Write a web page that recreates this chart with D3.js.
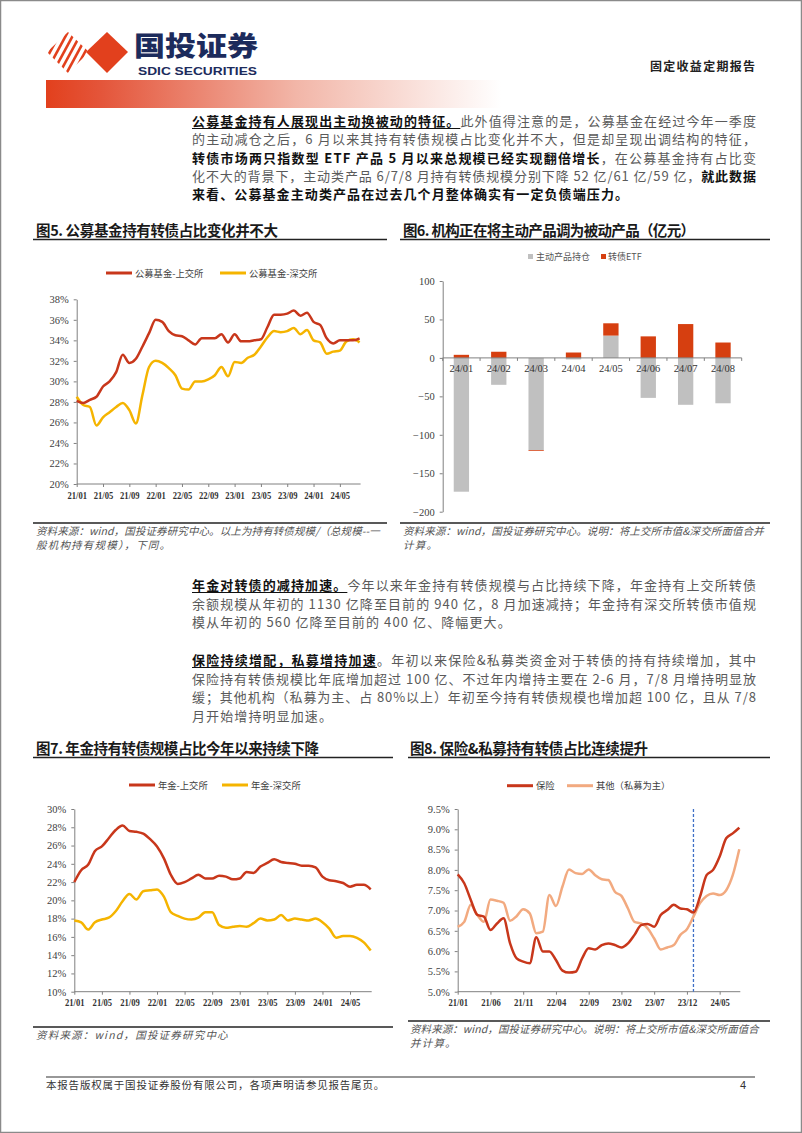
<!DOCTYPE html>
<html><head><meta charset="utf-8">
<script src="https://cdn.jsdelivr.net/npm/d3@7"></script>
<style>body{margin:0;background:#fff} svg{display:block}</style>
</head><body><svg id="page" width="802" height="1133"></svg>
<script>
// ---------------- DATA ----------------
const months = ["21/01","21/02","21/03","21/04","21/05","21/06","21/07","21/08","21/09","21/10","21/11","21/12",
  "22/01","22/02","22/03","22/04","22/05","22/06","22/07","22/08","22/09","22/10","22/11","22/12",
  "23/01","23/02","23/03","23/04","23/05","23/06","23/07","23/08","23/09","23/10","23/11","23/12",
  "24/01","24/02","24/03","24/04","24/05","24/06","24/07","24/08"];

// Fig 5 (%)
const fundSH = [28.1,27.9,28.2,28.5,29.5,30.0,30.9,32.6,31.8,32.2,33.4,34.7,
  36.0,35.8,34.9,34.5,34.4,34.0,33.6,34.2,34.2,34.2,34.6,33.8,
  34.6,33.9,33.9,34.0,34.1,35.3,36.5,36.5,36.6,36.9,36.4,36.7,
  35.8,35.5,34.2,33.7,34.0,34.0,34.0,34.2];
const fundSZ = [28.5,27.7,27.5,25.7,26.5,27.0,27.5,27.9,27.2,25.9,28.7,31.4,
  32.0,31.8,31.3,30.6,29.3,29.2,30.0,30.0,30.2,30.6,31.4,30.5,
  31.9,31.8,32.3,32.6,33.4,34.3,34.9,34.8,34.9,35.2,34.6,35.0,
  34.0,33.8,32.7,32.9,33.0,33.9,34.1,33.8];
const yTicks5 = [20,22,24,26,28,30,32,34,36,38];
const xTicks5 = ["21/01","21/05","21/09","22/01","22/05","22/09","23/01","23/05","23/09","24/01","24/05"];

// Fig 6 (亿元)
const etfMonths = ["24/01","24/02","24/03","24/04","24/05","24/06","24/07","24/08"];
const activeHold = [-174,-35,-120,-2,29,-52,-61,-59];
const etfHold = [4,8,-1,7,16,28,44,20];
const yTicks6 = [-200,-150,-100,-50,0,50,100];

// Fig 7 (%)
const pensionSH = [22.0,23.3,23.9,25.4,25.9,26.8,27.7,28.2,27.6,27.5,27.3,26.7,
  25.9,24.6,22.8,21.8,22.0,22.4,22.8,22.4,22.4,22.7,22.6,22.3,
  22.4,23.1,23.0,23.7,24.1,24.5,24.2,24.1,24.0,23.8,23.8,23.6,
  22.6,22.2,22.1,21.9,21.5,21.7,21.7,21.2];
const pensionSZ = [17.8,17.6,16.8,17.6,17.9,18.1,18.8,19.9,20.7,20.1,21.0,21.1,
  21.2,20.4,18.7,18.3,18.0,17.9,18.1,18.7,18.7,17.3,17.0,17.1,
  17.2,17.1,17.5,18.0,17.8,17.9,18.4,17.8,18.0,17.9,17.8,18.0,
  17.6,16.9,15.9,16.1,16.1,15.9,15.4,14.5];
const yTicks7 = [10,12,14,16,18,20,22,24,26,28,30];
const xTicks7 = xTicks5;

// Fig 8 (%)
const insurance = [7.89,7.67,7.26,6.89,6.85,6.52,6.68,6.81,6.19,5.82,5.74,5.70,
  6.34,5.99,5.99,5.78,5.52,5.47,5.49,5.82,6.07,6.04,6.15,6.19,
  6.15,6.09,6.19,6.40,6.64,6.67,6.60,6.89,7.01,7.14,7.05,7.03,
  6.95,7.34,7.87,8.00,8.33,8.78,8.90,9.04];
const others = [6.60,6.72,7.14,6.89,6.72,7.27,7.24,7.19,6.75,6.86,7.03,6.93,
  6.44,6.48,7.38,7.11,7.59,8.01,7.92,7.90,8.01,7.87,7.77,7.75,
  7.46,7.36,7.05,6.72,6.68,6.56,6.31,6.04,6.09,6.15,6.40,6.54,
  6.85,7.18,7.36,7.42,7.38,7.50,7.87,8.51];
const yTicks8 = [5.0,5.5,6.0,6.5,7.0,7.5,8.0,8.5,9.0,9.5];
const xTicks8 = ["21/01","21/06","21/11","22/04","22/09","23/02","23/07","23/12","24/05"];
const markerMonth8 = "24/01";

// ---------------- SETUP ----------------
const svg = d3.select("#page");
const CJK = "'Noto Sans CJK SC','Noto Sans',sans-serif";
const SERIF = "'Liberation Serif','Times New Roman',serif";
const RED = "#C8371B", YEL = "#F5B400", GRAY_BAR = "#C0C0C0", ETF_RED = "#D63F10", SALMON = "#F2AA80";
const AXIS = "#808080", LABEL = "#404040";

svg.append("rect").attr("x",0.5).attr("y",0.5).attr("width",801).attr("height",1132)
  .attr("fill","#fff").attr("stroke","#8a8a8a").attr("stroke-width",1.5);

// ---------------- HEADER ----------------
const defs = svg.append("defs");
const g1 = defs.append("linearGradient").attr("id","hdrGrad").attr("x1","0").attr("x2","1");
g1.append("stop").attr("offset","0").attr("stop-color","#E2401D");
g1.append("stop").attr("offset","0.12").attr("stop-color","#E4553A");
g1.append("stop").attr("offset","0.55").attr("stop-color","#F2B6A8");
g1.append("stop").attr("offset","1").attr("stop-color","#ffffff");
svg.append("rect").attr("x",46).attr("y",80).attr("width",455).attr("height",28).attr("fill","url(#hdrGrad)");

// logo
defs.append("clipPath").attr("id","stripeClip").append("polygon")
  .attr("points","68,32 89,52 68,73 47,52");
const logo = svg.append("g");
logo.append("polygon").attr("points","107,32 128,52 107,73 86,52").attr("fill","#E2401D");
const sg = logo.append("g").attr("clip-path","url(#stripeClip)");
[-18,-11,-4,3,10,17,24].forEach(o => {
  sg.append("line").attr("x1",55+o).attr("y1",76).attr("x2",81+o).attr("y2",28)
    .attr("stroke","#E2401D").attr("stroke-width",2.6);
});
svg.append("text").attr("x",134).attr("y",56).attr("font-family",CJK).attr("font-weight",900)
  .attr("font-size",27).attr("fill","#1C2B5C").attr("textLength",124).attr("lengthAdjust","spacingAndGlyphs").text("国投证券");
svg.append("text").attr("x",138).attr("y",75).attr("font-family","'Liberation Sans',Arial,sans-serif").attr("font-weight",700)
  .attr("font-size",11.5).attr("fill","#1C2B5C").attr("textLength",119).attr("lengthAdjust","spacingAndGlyphs").text("SDIC SECURITIES");
svg.append("text").attr("x",650).attr("y",71).attr("font-family",CJK).attr("font-weight",700)
  .attr("font-size",12).attr("fill","#222").attr("textLength",105).attr("lengthAdjust","spacing").text("固定收益定期报告");

// ---------------- BODY TEXT ----------------
const TX0 = 192, TX1 = 757;
function para(lines, y0, step){
  lines.forEach((segs, i) => {
    const y = y0 + i*step;
    const t = svg.append("text").attr("x",TX0).attr("y",y).attr("font-family",CJK)
      .attr("font-size",13).attr("letter-spacing",1.1);
    segs.forEach(s => {
      t.append("tspan").attr("font-weight", s.b ? 700 : 400).attr("fill", s.b ? "#111" : "#5a5a5a").text(s.t);
    });
    const full = i < lines.length-1;
    if (full) t.attr("textLength",TX1-TX0).attr("lengthAdjust","spacing");
    if (segs[0].u) {
      const n = segs[0].t.length;
      const node = t.node();
      const xe = node.getEndPositionOfChar(n-1).x;
      svg.append("line").attr("x1",TX0).attr("x2",xe).attr("y1",y+2.5).attr("y2",y+2.5)
        .attr("stroke","#111").attr("stroke-width",1);
    }
  });
}
para([
  [{t:"公募基金持有人展现出主动换被动的特征。",b:1,u:1},{t:"此外值得注意的是，公募基金在经过今年一季度"}],
  [{t:"的主动减仓之后，6 月以来其持有转债规模占比变化并不大，但是却呈现出调结构的特征，"}],
  [{t:"转债市场两只指数型 ETF 产品 5 月以来总规模已经实现翻倍增长",b:1},{t:"，在公募基金持有占比变"}],
  [{t:"化不大的背景下，主动类产品 6/7/8 月持有转债规模分别下降 52 亿/61 亿/59 亿，"},{t:"就此数据",b:1}],
  [{t:"来看、公募基金主动类产品在过去几个月整体确实有一定负债端压力。",b:1}]
], 126, 18.3);
para([
  [{t:"年金对转债的减持加速。",b:1,u:1},{t:"今年以来年金持有转债规模与占比持续下降，年金持有上交所转债"}],
  [{t:"余额规模从年初的 1130 亿降至目前的 940 亿，8 月加速减持；年金持有深交所转债市值规"}],
  [{t:"模从年初的 560 亿降至目前的 400 亿、降幅更大。"}]
], 590, 18.6);
para([
  [{t:"保险持续增配，私募增持加速",b:1,u:1},{t:"。年初以来保险&私募类资金对于转债的持有持续增加，其中"}],
  [{t:"保险持有转债规模比年底增加超过 100 亿、不过年内增持主要在 2-6 月，7/8 月增持明显放"}],
  [{t:"缓；其他机构（私募为主、占 80%以上）年初至今持有转债规模也增加超 100 亿，且从 7/8"}],
  [{t:"月开始增持明显加速。"}]
], 665, 18.6);

// ---------------- HELPERS ----------------
function title(x, y, w, txt, rx0, rx1){
  svg.append("text").attr("x",x).attr("y",y).attr("font-family",CJK).attr("font-weight",700)
    .attr("font-size",14.5).attr("fill","#1a1a1a").attr("textLength",w).attr("lengthAdjust","spacing").text(txt);
  svg.append("line").attr("x1",rx0).attr("x2",rx1).attr("y1",y+3.5).attr("y2",y+3.5).attr("stroke","#222").attr("stroke-width",1.4);
}
function source(x, y, lines, w, rx0, rx1){
  svg.append("line").attr("x1",rx0).attr("x2",rx1).attr("y1",y-8).attr("y2",y-8).attr("stroke","#222").attr("stroke-width",1.4);
  lines.forEach((l,i) => {
    const t = svg.append("text").attr("x",x).attr("y",y+4+i*14).attr("font-family",CJK).attr("font-style","italic")
      .attr("font-size",10.5).attr("fill","#555").attr("letter-spacing",1.2).text(l);
    if (i < lines.length-1 && w) t.attr("textLength",w).attr("lengthAdjust","spacing");
  });
}
function legendLine(x, y, color, label){
  svg.append("line").attr("x1",x).attr("x2",x+26).attr("y1",y).attr("y2",y).attr("stroke",color).attr("stroke-width",3);
  svg.append("text").attr("x",x+29).attr("y",y+3.5).attr("font-family",CJK).attr("font-size",9.3).attr("fill",LABEL).text(label);
}
function styleAxis(g){
  g.select(".domain").attr("stroke",AXIS);
  g.selectAll(".tick line").attr("stroke",AXIS);
  g.selectAll(".tick text").attr("fill",LABEL).attr("font-family",SERIF).attr("font-size",10.5);
}
function lineChart(o){
  const x = d3.scalePoint().domain(months).range([o.x0, o.x1]);
  const y = d3.scaleLinear().domain([o.yTicks[0], o.yTicks[o.yTicks.length-1]]).range([o.yb, o.yt]);
  const ya = svg.append("g").attr("transform",`translate(${o.x0},0)`)
    .call(d3.axisLeft(y).tickValues(o.yTicks).tickSize(3).tickSizeOuter(0).tickPadding(5).tickFormat(o.fmt));
  styleAxis(ya);
  const xa = svg.append("g").attr("transform",`translate(0,${o.yb})`)
    .call(d3.axisBottom(x).tickValues(o.xTicks).tickSize(3).tickSizeOuter(0));
  styleAxis(xa);
  xa.select(".domain").attr("d",`M${o.x0},0H${o.x1 + 1}`);
  xa.selectAll(".tick text").attr("dy",null).attr("y",14.5).attr("font-weight",700).attr("fill","#333")
    .attr("font-size",10).attr("textLength",19.5).attr("lengthAdjust","spacingAndGlyphs");
  if (o.marker){
    svg.append("line").attr("x1",x(o.marker)).attr("x2",x(o.marker)).attr("y1",o.yt).attr("y2",o.yb)
      .attr("stroke","#3F6FC6").attr("stroke-width",1.3).attr("stroke-dasharray","3,2");
  }
  o.series.forEach(s => {
    const line = d3.line().x((d,i)=>x(months[i])).y(d=>y(d)).curve(d3.curveMonotoneX);
    svg.append("path").datum(s.values).attr("d",line).attr("fill","none")
      .attr("stroke",s.color).attr("stroke-width",2.5).attr("stroke-linejoin","round");
  });
}

// ---------------- FIG 5 ----------------
title(36, 236, 242, "图5. 公募基金持有转债占比变化并不大", 33, 387);
legendLine(106, 273, RED, "公募基金-上交所");
legendLine(220, 273, YEL, "公募基金-深交所");
lineChart({x0:76.7, x1:359.6, yt:299.3, yb:484, yTicks:yTicks5, xTicks:xTicks5, fmt:d=>d+"%",
  series:[{values:fundSZ,color:YEL},{values:fundSH,color:RED}]});
source(36, 531, ["资料来源：wind，国投证券研究中心。以上为持有转债规模/（总规模--一","般机构持有规模），下同。"], 345, 33, 387);

// ---------------- FIG 6 ----------------
title(403, 236, 292, "图6. 机构正在将主动产品调为被动产品（亿元）", 400, 770);
svg.append("rect").attr("x",528).attr("y",254).attr("width",5).attr("height",5).attr("fill",GRAY_BAR);
svg.append("text").attr("x",536).attr("y",260).attr("font-family",CJK).attr("font-size",9).attr("fill","#555").text("主动产品持仓");
svg.append("rect").attr("x",601).attr("y",254).attr("width",5).attr("height",5).attr("fill",ETF_RED);
svg.append("text").attr("x",608).attr("y",260).attr("font-family",CJK).attr("font-size",9).attr("fill","#555").text("转债ETF");
(function(){
  const x = d3.scaleBand().domain(etfMonths).range([442.7,741.7]).paddingInner(0.59).paddingOuter(0.295);
  const y = d3.scaleLinear().domain([-200,100]).range([511.7,281]);
  const ya = svg.append("g").attr("transform","translate(442.7,0)")
    .call(d3.axisLeft(y).tickValues(yTicks6).tickSize(3).tickSizeOuter(0).tickPadding(5));
  styleAxis(ya);
  const rows = etfMonths.map((m,i)=>({m, active:activeHold[i], etf:etfHold[i]}));
  const stack = d3.stack().keys(["active","etf"]).offset(d3.stackOffsetDiverging)(rows);
  const colors = {active:GRAY_BAR, etf:ETF_RED};
  stack.forEach(layer => {
    svg.append("g").selectAll("rect").data(layer).join("rect")
      .attr("x",d=>x(d.data.m)).attr("width",x.bandwidth())
      .attr("y",d=>y(Math.max(d[0],d[1]))).attr("height",d=>Math.abs(y(d[0])-y(d[1])))
      .attr("fill",colors[layer.key]);
  });
  const xa = svg.append("g").attr("transform",`translate(0,${y(0)})`)
    .call(d3.axisBottom(x).tickSize(0).tickSizeOuter(0));
  styleAxis(xa);
  xa.select(".domain").attr("d","M442.7,0H741.7");
  xa.selectAll(".tick text").attr("dy",null).attr("y",14).attr("fill","#333");
  const step = x.step();
  svg.append("g").selectAll("line").data(d3.range(etfMonths.length+1)).join("line")
    .attr("x1",i=>442.7+i*step).attr("x2",i=>442.7+i*step).attr("y1",y(0)).attr("y2",y(0)+3).attr("stroke",AXIS);
})();
source(403, 531, ["资料来源：wind，国投证券研究中心。说明：将上交所市值&深交所面值合并","计算。"], 362, 400, 770);

// ---------------- FIG 7 ----------------
title(36, 754, 283, "图7. 年金持有转债规模占比今年以来持续下降", 33, 393);
legendLine(129, 785, RED, "年金-上交所");
legendLine(222, 785, YEL, "年金-深交所");
lineChart({x0:74.3, x1:370.7, yt:809, yb:991.7, yTicks:yTicks7, xTicks:xTicks7, fmt:d=>d+"%",
  series:[{values:pensionSZ,color:YEL},{values:pensionSH,color:RED}]});
source(36, 1035, ["资料来源：wind，国投证券研究中心"], null, 33, 393);

// ---------------- FIG 8 ----------------
title(410, 754, 238, "图8. 保险&私募持有转债占比连续提升", 408, 770);
legendLine(507, 785.7, RED, "保险");
legendLine(567, 785.7, SALMON, "其他（私募为主）");
lineChart({x0:457.7, x1:739.3, yt:809, yb:991.7, yTicks:yTicks8, xTicks:xTicks8, fmt:d=>d.toFixed(1)+"%",
  marker:markerMonth8,
  series:[{values:others,color:SALMON},{values:insurance,color:RED}]});
source(410, 1029, ["资料来源：wind，国投证券研究中心。说明：将上交所市值&深交所面值合","并计算。"], 350, 408, 770);

// ---------------- FOOTER ----------------
svg.append("line").attr("x1",46).attr("x2",755).attr("y1",1077).attr("y2",1077).attr("stroke","#333").attr("stroke-width",1.2);
svg.append("text").attr("x",46).attr("y",1089).attr("font-family",CJK).attr("font-size",10.5).attr("fill","#333")
  .attr("letter-spacing",0.8).text("本报告版权属于国投证券股份有限公司，各项声明请参见报告尾页。");
svg.append("text").attr("x",740).attr("y",1089).attr("font-family","'Liberation Sans',Arial,sans-serif").attr("font-size",11).attr("fill","#333").text("4");
</script></body></html>
